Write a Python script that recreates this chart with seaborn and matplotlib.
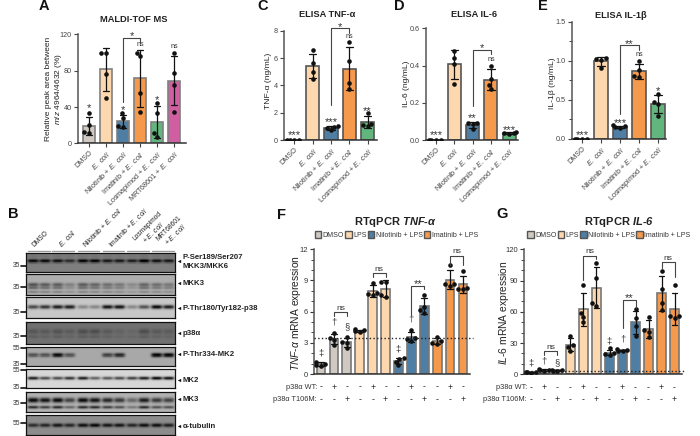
import numpy as np
import pandas as pd
import matplotlib
matplotlib.use('Agg')
import matplotlib.pyplot as plt
from matplotlib.patches import Patch
from matplotlib.ticker import MultipleLocator
import seaborn as sns

W, H = 700, 436

# colours
GREY = '#cfc9c2'
PEACH = '#fdd7ae'
BLUE = '#4e7ea3'
ORANGE = '#f5994d'
GREEN = '#62b57d'
PINK = '#cf5fa0'

COLI = r'$\mathit{E.\ coli}$'
ELISA_NAMES = ['DMSO', COLI, 'Nilotinib + ' + COLI, 'Imatinib + ' + COLI, 'Losmapimod + ' + COLI]
ELISA_COLORS = [GREY, PEACH, BLUE, ORANGE, GREEN]

# panel A, MALDI-TOF
a_names = ELISA_NAMES + ['MRT68601 + ' + COLI]
a_colors = ELISA_COLORS + [PINK]
a_values = [[33, 20, 12, 11], [100, 100, 76, 50], [33, 28, 19, 18],
            [100, 96, 56, 34], [44, 33, 11, 7], [100, 77, 64, 35]]

# panels C, D, E, ELISA
c_values = [[0.03, 0.03, 0.03, 0.03], [6.6, 5.6, 5.0, 4.5], [1.05, 0.95, 0.85, 0.7],
            [7.2, 5.75, 4.2, 3.7], [2.0, 1.2, 1.1, 1.0]]
d_values = [[0.001, 0.001, 0.001, 0.001], [0.48, 0.44, 0.41, 0.30], [0.093, 0.09, 0.086, 0.057],
            [0.40, 0.326, 0.295, 0.272], [0.042, 0.038, 0.035, 0.03]]
e_values = [[0.002, 0.002, 0.002, 0.002], [1.03, 1.02, 1.01, 0.90], [0.17, 0.16, 0.15, 0.14],
            [0.995, 0.88, 0.80, 0.786], [0.57, 0.47, 0.45, 0.29]]

# panels F, G, RT-qPCR
pcr_colors = [GREY] * 3 + [PEACH] * 3 + [BLUE] * 3 + [ORANGE] * 3
f_values = [[1.2, 1.0, 0.85, 0.8], [3.9, 3.5, 3.3, 2.8], [3.6, 3.1, 2.95, 2.5],
            [4.3, 4.2, 4.1, 4.05], [8.8, 7.8, 7.7, 7.6], [8.9, 8.9, 7.6, 7.4],
            [1.55, 1.45, 1.2, 0.85], [4.2, 3.5, 3.35, 3.2], [7.6, 6.4, 6.15, 5.9],
            [3.6, 3.2, 3.0, 2.9], [10.5, 8.7, 8.65, 8.5], [9.9, 8.3, 8.15, 8.15]]
g_values = [[2.5, 2, 2, 1.5], [5, 4.5, 4, 3.5], [4.5, 4, 3.5, 3],
            [37, 28, 26, 22], [86, 58.5, 55, 50], [107, 92, 68, 66],
            [25, 20, 19.5, 19], [24, 23, 22.5, 22], [63, 54, 46, 37],
            [55, 42.5, 41, 35.5], [99.5, 81.5, 68, 62], [86, 56, 55.5, 54]]
wt_row = ['-', '+', '-', '-', '+', '-', '-', '+', '-', '-', '+', '-']
t106m_row = ['-', '-', '+', '-', '-', '+', '-', '-', '+', '-', '-', '+']
legend_names = ['DMSO', 'LPS', 'Nilotinib + LPS', 'Imatinib + LPS']
legend_colors = [GREY, PEACH, BLUE, ORANGE]

# panel B, band strength per lane for each blot: (height in strip, thickness, lanes)
blot_backgrounds = [0.50, 0.68, 0.78, 0.44, 0.66, 0.84, 0.70, 0.55]
blot_bands = [
    [(0.42, 0.10, [.90, .90, .85, .65, .95, .95, .80, .80, .75, 1.0, .85, .80]),
     (0.15, 0.10, [.10, .10, .10, .08, .10, .10, .10, .08, .08, .12, .10, .10])],
    [(0.50, 0.10, [.50, .45, .45, .25, .45, .40, .35, .30, .20, .40, .35, .30]),
     (0.66, 0.07, [.35, .30, .30, .15, .30, .28, .25, .22, .12, .30, .25, .22]),
     (0.85, 0.06, [.25, .22, .22, .15, .22, .20, .20, .18, .12, .20, .18, .16])],
    [(0.46, 0.10, [.60, .70, .80, .80, .30, .30, .85, .85, .30, .55, .90, .80])],
    [(0.43, 0.13, [.22, .20, .25, .18, .30, .30, .20, .12, .08, .30, .20, .18]),
     (0.68, 0.08, [.15, .12, .15, .10, .15, .15, .12, .08, .08, .15, .12, .10])],
    [(0.42, 0.11, [.50, .50, .92, .50, .00, .00, .60, .75, .00, .00, .95, .95])],
    [(0.47, 0.09, [.80, .60, .60, .70, .80, .50, .55, .60, .65, .80, .90, .85])],
    [(0.42, 0.13, [.90, .85, .90, .60, .90, .85, .75, .65, .40, .80, .65, .60]),
     (0.78, 0.08, [.70, .60, .70, .40, .70, .70, .60, .50, .30, .70, .50, .50])],
    [(0.50, 0.10, [.65, .70, .80, .70, .85, .90, .80, .80, .70, .85, .85, .75])],
]
blot_tops = [253.3, 274, 297.3, 322.3, 347.3, 369.3, 391.7, 415]
blot_bottoms = [271.7, 295, 318.3, 344, 365.7, 388.3, 411.7, 435]
blot_sizes = [('35', 265.7), ('35', 287.3), ('35', 312.3), ('35', 336), ('55', 348),
              ('35', 364.3), ('55', 370), ('35', 387.7), ('35', 403.3), ('55', 423.3)]
blot_labels = [('P-Ser189/Ser207', 257.3, False), ('MKK3/MKK6', 266, True), ('MKK3', 283.3, True),
               ('P-Thr180/Tyr182-p38', 308.3, True), ('p38α', 333.3, True),
               ('P-Thr334-MK2', 354, True), ('MK2', 380, True), ('MK3', 399.3, True),
               ('α-tubulin', 426, True)]
blot_headers = [('DMSO', 108), (COLI, 190), ('Nilotinib + ' + COLI, 262),
                ('Imatinib + ' + COLI, 340), ('Losmapimod\n+ ' + COLI, 428), ('MRT68601\n+ ' + COLI, 500)]
blot_groups = [(83, 150), (157, 222), (233, 298), (308, 372), (382, 447), (457, 522)]

sns.set_theme(style='ticks')
plt.rcParams['font.family'] = ['Liberation Sans', 'DejaVu Sans']
plt.rcParams['mathtext.fontset'] = 'custom'
plt.rcParams['mathtext.rm'] = 'Liberation Sans'
plt.rcParams['mathtext.it'] = 'Liberation Sans:italic'
plt.rcParams['mathtext.bf'] = 'Liberation Sans:bold'
plt.rcParams['mathtext.bfit'] = 'Liberation Sans:italic:bold'
plt.rcParams['axes.edgecolor'] = '#555555'
plt.rcParams['text.color'] = '#222222'

fig = plt.figure(figsize=(W / 100, H / 100), dpi=100, facecolor='white')

# overlay in picture pixels for letters, titles and row labels
ov = fig.add_axes([0, 0, 1, 1], zorder=10)
ov.set_xlim(0, W)
ov.set_ylim(H, 0)
ov.axis('off')


def px_axes(left, top, right, bottom):
    return fig.add_axes([left / W, 1 - bottom / H, (right - left) / W, (bottom - top) / H])


def draw_bars(ax, names, values, colors, edge, ymax, spacing, left, bar_w=0.72, dot=3.3, cap=0.4):
    df = pd.DataFrame({'name': np.repeat(names, [len(v) for v in values]),
                       'value': np.concatenate(values)})
    sns.barplot(data=df, x='name', y='value', hue='name', order=names, hue_order=names,
                palette=dict(zip(names, colors)), saturation=1, errorbar='sd', capsize=cap, width=bar_w,
                edgecolor=edge, linewidth=1.2, legend=False, ax=ax,
                err_kws={'color': '#111111', 'linewidth': 0.9})
    sns.swarmplot(data=df, x='name', y='value', order=names, color='#111111', size=dot, ax=ax, zorder=5)
    ax.set_ylim(0, ymax)
    ax.set_xlim(left, left + spacing)
    ax.set_xlabel('')
    ax.set_ylabel('')
    sns.despine(ax=ax)
    for s in ax.spines.values():
        s.set_linewidth(1.1)
    ax.spines['bottom'].set_color('#333333')
    ax.patch.set_alpha(0)


def marks(ax, items, ns_size=5.2, color='#333333'):
    for x, y, txt in items:
        star = txt.startswith('*')
        size = 8 if star else (6.8 if txt in '‡†§' else ns_size)
        ax.annotate(txt, (x, y), xytext=(0, -2.0 if star else 0), textcoords='offset points',
                    ha='center', va='center', fontsize=size, color=color,
                    annotation_clip=False)


def bracket(ax, x0, x1, y, y0, y1, color='#444444'):
    ax.plot([x0, x0, x1, x1], [y0, y, y, y1], color=color, lw=0.8, clip_on=False, zorder=6)


def elisa_style(ax, ticks, fontsize=5.2):
    ax.set_yticks(ticks)
    ax.tick_params(axis='y', labelsize=fontsize, length=3, width=0.8, pad=1.5, colors='#444444')
    ax.tick_params(axis='x', labelsize=fontsize, length=3, width=0.8, pad=1.5, colors='#444444')
    for t in ax.get_xticklabels():
        t.set_rotation(45)
        t.set_ha('right')
        t.set_rotation_mode('anchor')


# A
ax = px_axes(78, 34.5, 186, 143.3)
draw_bars(ax, a_names, a_values, a_colors, '#808080', 120, 6.35, -0.65)
elisa_style(ax, [0, 40, 80, 120])
marks(ax, [(0, 42, '*'), (2, 40, '*'), (4, 50.6, '*'), (3, 109, 'ns'), (5, 107, 'ns'), (2.5, 121, '*')])
bracket(ax, 2, 3, 115.6, 46, 112)

# C
ax = px_axes(284.3, 30.7, 376.7, 140)
draw_bars(ax, ELISA_NAMES, c_values, ELISA_COLORS, '#555555', 8, 5.05, -0.55)
elisa_style(ax, [0, 2, 4, 6, 8])
marks(ax, [(0, 0.54, '***'), (2, 1.5, '***'), (3, 7.6, 'ns'), (4, 2.3, '**'), (2.5, 8.5, '*')])
bracket(ax, 2, 3, 8.17, 2.56, 7.85)

# D
ax = px_axes(426, 28.3, 518.3, 140)
draw_bars(ax, ELISA_NAMES, d_values, ELISA_COLORS, '#555555', 0.6, 5.05, -0.55)
elisa_style(ax, [0, 0.2, 0.4, 0.6])
marks(ax, [(0, 0.04, '***'), (2, 0.134, '**'), (3, 0.433, 'ns'), (4, 0.07, '***'), (2.5, 0.507, '*')])
bracket(ax, 2, 3, 0.484, 0.183, 0.46)

# E
ax = px_axes(571.7, 21.7, 665.7, 138.7)
draw_bars(ax, ELISA_NAMES, e_values, ELISA_COLORS, '#555555', 1.5, 4.95, -0.55)
elisa_style(ax, [0, 0.5, 1.0, 1.5])
ax.yaxis.set_minor_locator(MultipleLocator(0.25))
ax.tick_params(axis='y', which='minor', length=2, width=0.7, colors='#444444')
marks(ax, [(0, 0.077, '***'), (2, 0.24, '***'), (3, 1.085, 'ns'), (4, 0.645, '*'), (2.5, 1.25, '**')])
bracket(ax, 2, 3, 1.2, 0.316, 1.137)


def pcr_panel(ax, values, ymax, major, minor, cut, legend_x):
    pos = ['c%d' % i for i in range(12)]
    draw_bars(ax, pos, values, pcr_colors, '#777777', ymax, 12.1, -0.55, bar_w=0.68, dot=3.3, cap=0.45)
    ax.set_yticks(major)
    ax.yaxis.set_minor_locator(MultipleLocator(minor))
    ax.tick_params(axis='y', which='major', labelsize=5.5, length=3, width=0.8, pad=1.5, colors='#333333')
    ax.tick_params(axis='y', which='minor', length=2, width=0.7, colors='#444444')
    ax.tick_params(axis='x', length=0, labelbottom=False)
    ax.plot([-0.55, 11.8], [cut, cut], color='#222222', ls=':', lw=1.0, zorder=7, clip_on=False)
    trans = ax.get_xaxis_transform()
    for i in range(12):
        ax.text(i, -0.105, wt_row[i], transform=trans, ha='center', va='center', fontsize=6.2, clip_on=False)
        ax.text(i, -0.205, t106m_row[i], transform=trans, ha='center', va='center', fontsize=6.2, clip_on=False)
    handles = [Patch(facecolor=c, edgecolor='#555555', linewidth=1.0) for c in legend_colors]
    ax.legend(handles, legend_names, ncol=4, loc='lower left', bbox_to_anchor=(legend_x, 1.085), frameon=False,
              fontsize=5.0, handlelength=0.9, handleheight=1.2, handletextpad=0.2, columnspacing=0.2,
              borderpad=0, borderaxespad=0, labelcolor='#333333')


# F
ax = px_axes(314, 249.3, 470, 374)
pcr_panel(ax, f_values, 12, [0, 3, 6, 9, 12], 1, 3.5, 0.006)
marks(ax, [(0, 2.05, '‡'), (1, 5.0, '†'), (2, 4.55, '§'), (6, 2.37, '‡'), (7, 5.25, '†')], 6.1)
marks(ax, [(1.5, 6.3, 'ns'), (4.5, 10.05, 'ns'), (7.5, 8.9, '**'), (10.5, 11.75, 'ns')], 6.1)
bracket(ax, 1, 2, 6.0, 5.6, 5.6)
bracket(ax, 4, 5, 9.75, 9.3, 9.3)
bracket(ax, 7, 8, 8.46, 5.67, 8.14)
bracket(ax, 10, 11, 11.35, 10.5, 10.5)

# G
ax = px_axes(524.3, 249.3, 681.7, 374.3)
pcr_panel(ax, g_values, 120, [0, 30, 60, 90, 120], 10, 3.2, 0.02)
marks(ax, [(0, 10.5, '‡'), (1, 12.8, '†'), (2, 11, '§'), (6, 32, '‡'), (7, 33.6, '†')], 6.1)
marks(ax, [(1.5, 25.6, 'ns'), (4.5, 118, 'ns'), (7.5, 76, '**'), (10.5, 110.7, 'ns')], 6.1)
bracket(ax, 1, 2, 22.4, 19, 19)
bracket(ax, 4, 5, 114, 90.5, 111)
bracket(ax, 7, 8, 71, 44.8, 64)
bracket(ax, 10, 11, 107.5, 101.8, 93.8)

# B, blots drawn as heatmaps of band strength
lane_x = np.array([98, 134, 172, 208, 248, 284, 322, 358, 396, 432, 470, 506]) / 3.0
for bg, bands, top, bottom in zip(blot_backgrounds, blot_bands, blot_tops, blot_bottoms):
    ax = px_axes(26, top, 175, bottom)
    nx, ny = 298, int((bottom - top) * 2)
    xx = np.linspace(26, 175, nx)
    yy = np.linspace(0, 1, ny)
    img = np.full((ny, nx), bg)
    for y0, thick, lanes in bands:
        across = sum(v * np.exp(-((xx - c) / 5.6) ** 4) for v, c in zip(lanes, lane_x))
        img -= np.outer(np.exp(-((yy - y0) / thick) ** 2), across) * bg * 1.05
    sns.heatmap(np.clip(img, 0, 1), ax=ax, cmap='gray', vmin=0, vmax=1, cbar=False,
                xticklabels=False, yticklabels=False, rasterized=True)
    ax.tick_params(length=0)
    for s in ax.spines.values():
        s.set_visible(True)
        s.set_color('#111111')
        s.set_linewidth(0.9)

for txt, y in blot_sizes:
    ov.text(20, y, txt, ha='right', va='center', fontsize=4.8, color='#333333')
    ov.plot([20.5, 26], [y, y], color='#111111', lw=1.2)
for txt, y, arrow in blot_labels:
    ov.text(182.5, y, txt, ha='left', va='center', fontsize=5.6, fontweight='bold', color='#222222')
    if arrow and txt != 'MKK3/MKK6':
        ov.plot([178.5], [y], marker='<', ms=2.4, color='#111111', mew=0)
ov.plot([178.5], [261], marker='<', ms=2.4, color='#111111', mew=0)
for x0, x1 in blot_groups:
    ov.plot([x0 / 3, x1 / 3], [250.7, 250.7], color='#9a9a9a', lw=1.0)
for txt, x in blot_headers:
    ov.text(x / 3, 248.5, txt, rotation=45, ha='left', va='bottom', rotation_mode='anchor',
            multialignment='center', fontsize=4.8, linespacing=1.0, color='#222222')

# titles
for txt, x, y, size in [('MALDI-TOF MS', 134, 19, 6.7), ('ELISA TNF-α', 327.3, 14.5, 6.7),
                        ('ELISA IL-6', 474, 14.5, 6.7), ('ELISA IL-1β', 621, 15, 6.7),
                        (r'RTqPCR $\mathbfit{TNF}$-$\mathbfit{α}$', 395, 222, 8.0),
                        (r'RTqPCR $\mathbfit{IL}$-$\mathbfit{6}$', 618.7, 222, 8.0)]:
    ov.text(x, y, txt, ha='center', va='center', fontsize=size, fontweight='bold', color='#222222')

# panel letters
for txt, x, y in [('A', 39, 6), ('B', 8, 214), ('C', 257, 6), ('D', 394, 6), ('E', 538, 6),
                  ('F', 277, 215), ('G', 496, 214)]:
    ov.text(x, y, txt, ha='left', va='center', fontsize=10.5, fontweight='bold', color='#111111')

# y labels
ov.text(49, 89, 'Relative peak area between', rotation=90, ha='center', va='center', fontsize=6.0)
ov.text(59, 89, r'$\mathit{m/z}$ 4964/4632 (%)', rotation=90, ha='center', va='center', fontsize=6.0)
ov.text(268, 81, 'TNF-α (ng/mL)', rotation=90, ha='center', va='center', fontsize=6.1)
ov.text(407, 84, 'IL-6 (ng/mL)', rotation=90, ha='center', va='center', fontsize=6.1)
ov.text(552, 83, 'IL-1β (ng/mL)', rotation=90, ha='center', va='center', fontsize=6.1)
ov.text(296, 313, r'$\mathit{TNF}$-$\mathit{α}$ mRNA expression', rotation=90, ha='center', va='center', fontsize=7.4)
ov.text(504, 313, r'$\mathit{IL}$-$\mathit{6}$ mRNA expression', rotation=90, ha='center', va='center', fontsize=7.4)

# table row names
for x in [317, 527]:
    ov.text(x, 387.5, 'p38α WT:', ha='right', va='center', fontsize=5.3, color='#333333')
    ov.text(x, 399.5, 'p38α T106M:', ha='right', va='center', fontsize=5.3, color='#333333')

fig.savefig('out.png', dpi=100)
